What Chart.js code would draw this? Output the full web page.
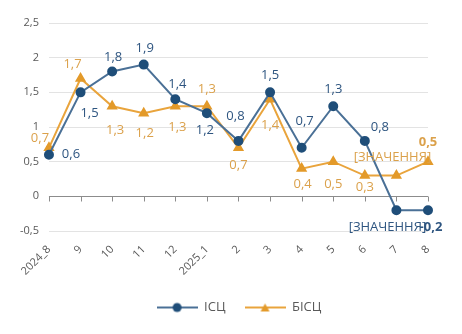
<!DOCTYPE html>
<html>
<head>
<meta charset="utf-8">
<script src="https://cdn.jsdelivr.net/npm/chart.js@4"></script>
<style>
  html, body { margin: 0; background: #fff; }
  #wrap { width: 462px; height: 334px; }
</style>
</head>
<body>
<div id="wrap"><canvas id="chart"></canvas></div>
<script>
// дані
const months = ['2024_8', '9', '10', '11', '12', '2025_1', '2', '3', '4', '5', '6', '7', '8'];
const iscValues = [0.6, 1.5, 1.8, 1.9, 1.4, 1.2, 0.8, 1.5, 0.7, 1.3, 0.8, -0.2, -0.2];
const biscValues = [0.7, 1.7, 1.3, 1.2, 1.3, 1.3, 0.7, 1.4, 0.4, 0.5, 0.3, 0.3, 0.5];
const iscLabels = ['0,6', '1,5', '1,8', '1,9', '1,4', '1,2', '0,8', '1,5', '0,7', '1,3', '0,8', '[ЗНАЧЕННЯ]', '-0,2'];
const biscLabels = ['0,7', '1,7', '1,3', '1,2', '1,3', '1,3', '0,7', '1,4', '0,4', '0,5', '0,3', '[ЗНАЧЕННЯ]', '0,5'];
const yTicks = [-0.5, 0, 0.5, 1, 1.5, 2, 2.5];

// зсуви підписів відносно точок
const iscOffsets = [[22, 0], [9, 21], [1, -14], [1, -16], [2, -15], [-2, 17], [-3, -25], [0, -17], [3, -27], [0, -17], [15, -14], [-9, 17], [3, 17]];
const biscOffsets = [[-9, -10], [-8, -14], [3, 24], [1, 20], [2, 21], [0, -17], [0, 17], [0, 26], [1, 16], [0, 23], [0, 12], [-4, -18], [0, -19]];

const BLUE_LINE = '#4A7096';
const BLUE_DOT = '#1F4E79';
const BLUE_TEXT = '#2E5580';
const ORANGE_LINE = '#E9A43C';
const ORANGE_DOT = '#E39A2A';
const ORANGE_TEXT = '#DBA14B';
const GREY = '#595959';

function legendIcon(color, dotColor, style) {
  const c = document.createElement('canvas');
  c.width = 41; c.height = 12;
  const g = c.getContext('2d');
  g.strokeStyle = color; g.lineWidth = 2;
  g.beginPath(); g.moveTo(0, 6); g.lineTo(41, 6); g.stroke();
  g.fillStyle = dotColor;
  g.beginPath();
  if (style === 'circle') {
    g.arc(20.5, 6, 4.5, 0, Math.PI * 2);
  } else {
    g.moveTo(20.5, 2); g.lineTo(25, 10); g.lineTo(16, 10); g.closePath();
  }
  g.fill();
  return c;
}

const pointLabels = {
  id: 'pointLabels',
  afterDatasetsDraw(chart) {
    const ctx = chart.ctx;
    chart.data.datasets.forEach((ds, i) => {
      const meta = chart.getDatasetMeta(i);
      meta.data.forEach((pt, j) => {
        const off = ds.labelOffsets[j];
        ctx.save();
        ctx.font = (j === meta.data.length - 1 ? 'bold ' : '') + '13px "Open Sans"';
        ctx.fillStyle = ds.labelColor;
        ctx.textAlign = 'center';
        ctx.textBaseline = 'middle';
        ctx.fillText(ds.labelTexts[j], pt.x + off[0], pt.y + off[1]);
        ctx.restore();
      });
    });
  }
};

const zeroAxis = {
  id: 'zeroAxis',
  beforeDatasetsDraw(chart) {
    const ctx = chart.ctx;
    const x = chart.scales.x, y = chart.scales.y;
    const y0 = Math.round(y.getPixelForValue(0)) + 0.5;
    ctx.save();
    ctx.strokeStyle = '#8C8C8C';
    ctx.lineWidth = 1;
    ctx.beginPath();
    ctx.moveTo(chart.chartArea.left, y0);
    ctx.lineTo(chart.chartArea.right, y0);
    x.ticks.forEach((t, i) => {
      const px = Math.round(x.getPixelForTick(i)) + 0.5;
      ctx.moveTo(px, y0);
      ctx.lineTo(px, y0 + 5);
    });
    ctx.stroke();
    ctx.restore();
  }
};

// легенду трохи правіше, як в оригіналі
const centerLegend = {
  id: 'centerLegend',
  afterLayout(chart) {
    const lg = chart.legend;
    const shift = (chart.width - (lg.left + lg.right)) / 2 + 8;
    lg.left += shift;
    lg.right += shift;
  }
};

new Chart(document.getElementById('chart'), {
  type: 'line',
  data: {
    labels: months,
    datasets: [{
      label: 'ІСЦ',
      data: iscValues,
      borderColor: BLUE_LINE,
      backgroundColor: BLUE_DOT,
      pointBackgroundColor: BLUE_DOT,
      pointBorderColor: BLUE_DOT,
      pointStyle: 'circle',
      pointRadius: 4,
      borderWidth: 2,
      tension: 0,
      labelTexts: iscLabels,
      labelOffsets: iscOffsets,
      labelColor: BLUE_TEXT,
      legendIcon: legendIcon(BLUE_LINE, BLUE_DOT, 'circle')
    }, {
      label: 'БІСЦ',
      data: biscValues,
      borderColor: ORANGE_LINE,
      backgroundColor: ORANGE_DOT,
      pointBackgroundColor: ORANGE_DOT,
      pointBorderColor: ORANGE_DOT,
      pointStyle: 'triangle',
      pointRadius: 4.5,
      borderWidth: 2,
      tension: 0,
      labelTexts: biscLabels,
      labelOffsets: biscOffsets,
      labelColor: ORANGE_TEXT,
      legendIcon: legendIcon(ORANGE_LINE, ORANGE_DOT, 'triangle')
    }]
  },
  options: {
    responsive: true,
    maintainAspectRatio: false,
    animation: false,
    layout: { padding: { left: 10, right: 34, top: 23, bottom: 10 } },
    plugins: {
      tooltip: { enabled: false },
      legend: {
        position: 'bottom',
        labels: {
          usePointStyle: true,
          pointStyleWidth: 41,
          padding: 19,
          color: GREY,
          font: { family: '"Open Sans"', size: 13 },
          generateLabels(chart) {
            return chart.data.datasets.map((ds, i) => ({
              text: ds.label,
              pointStyle: ds.legendIcon,
              fontColor: GREY,
              datasetIndex: i,
              hidden: false,
              lineWidth: 0
            }));
          }
        }
      }
    },
    scales: {
      x: {
        offset: false,
        grid: { display: false },
        border: { display: false },
        ticks: {
          color: GREY,
          font: { family: '"Open Sans"', size: 11 },
          minRotation: 45,
          maxRotation: 45,
          padding: 4
        }
      },
      y: {
        min: -0.5,
        max: 2.5,
        afterBuildTicks(scale) {
          scale.ticks = yTicks.map(v => ({ value: v }));
        },
        grid: { color: '#E3E3E3', drawTicks: false },
        border: { display: false },
        ticks: {
          color: GREY,
          font: { family: '"Open Sans"', size: 11 },
          padding: 10,
          callback: v => String(v).replace('.', ',')
        }
      }
    }
  },
  plugins: [zeroAxis, pointLabels, centerLegend]
});
</script>
</body>
</html>
